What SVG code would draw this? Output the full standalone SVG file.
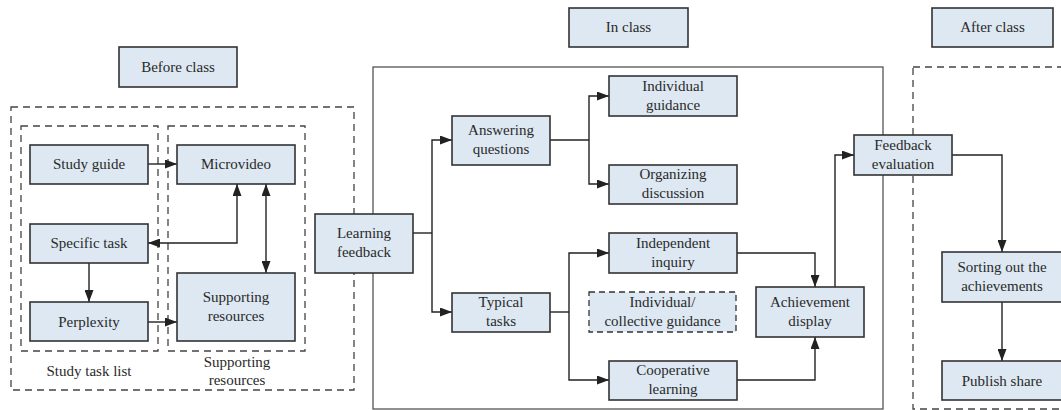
<svg xmlns="http://www.w3.org/2000/svg" width="1061" height="410" viewBox="0 0 1061 410">
<style>
.box{fill:#dde8f2;stroke:#333;stroke-width:1.6}
.dbox{fill:#dde8f2;stroke:#333;stroke-width:1.3;stroke-dasharray:6,4}
.frame{fill:none;stroke:#444;stroke-width:1.3;stroke-dasharray:7,5}
.sframe{fill:none;stroke:#555;stroke-width:1.3}
text{font-family:"Liberation Serif","Times New Roman",serif;font-size:15px;fill:#2a2a2a;text-anchor:middle}
.c{fill:none;stroke:#222;stroke-width:1.4}
</style>
<defs>
<marker id="a" viewBox="0 0 12 9" refX="12" refY="4.5" markerWidth="12" markerHeight="9" markerUnits="userSpaceOnUse" orient="auto-start-reverse">
<path d="M0,0 L12,4.5 L0,9 z" fill="#222"/>
</marker>
</defs>
<g id="frames">
<rect class="frame" x="11" y="107" width="343" height="283"/>
<rect class="frame" x="21" y="126" width="137" height="225"/>
<rect class="frame" x="168" y="126" width="137" height="225"/>
<rect class="sframe" x="373" y="67" width="510" height="342"/>
<rect class="frame" x="913" y="67" width="160" height="342"/>
<text x="89" y="376">Study task list</text>
<text x="237" y="367">Supporting</text>
<text x="237" y="385">resources</text>
</g>
<g id="connectors">
<line class="c" x1="148" y1="164" x2="177" y2="164" marker-end="url(#a)"/>
<line class="c" x1="148" y1="322" x2="177" y2="322" marker-end="url(#a)"/>
<polyline class="c" points="237,184 237,243 148,243" marker-start="url(#a)" marker-end="url(#a)"/>
<line class="c" x1="266" y1="184" x2="266" y2="273" marker-start="url(#a)" marker-end="url(#a)"/>
<line class="c" x1="89" y1="263" x2="89" y2="302" marker-end="url(#a)"/>
<line class="c" x1="413" y1="233" x2="432" y2="233"/>
<polyline class="c" points="452,140 432,140 432,312 452,312" marker-start="url(#a)" marker-end="url(#a)"/>
<line class="c" x1="550" y1="140" x2="589" y2="140"/>
<polyline class="c" points="609,96 589,96 589,184 609,184" marker-start="url(#a)" marker-end="url(#a)"/>
<line class="c" x1="550" y1="312" x2="569" y2="312"/>
<polyline class="c" points="609,253 569,253 569,380 609,380" marker-start="url(#a)" marker-end="url(#a)"/>
<polyline class="c" points="737,253 815,253 815,287" marker-end="url(#a)"/>
<polyline class="c" points="737,380 815,380 815,337" marker-end="url(#a)"/>
<polyline class="c" points="835,287 835,155 854,155" marker-end="url(#a)"/>
<polyline class="c" points="952,155 1002,155 1002,252" marker-end="url(#a)"/>
<line class="c" x1="1002" y1="302" x2="1002" y2="361" marker-end="url(#a)"/>
</g>
<g id="before-class"><rect class="box" x="119" y="47" width="118" height="40"/><text x="178" y="72">Before class</text></g>
<g id="in-class"><rect class="box" x="569" y="8" width="119" height="39"/><text x="628.5" y="32">In class</text></g>
<g id="after-class"><rect class="box" x="932" y="8" width="121" height="39"/><text x="992.5" y="32">After class</text></g>
<g id="study-guide"><rect class="box" x="30" y="145" width="118" height="39"/><text x="89" y="169">Study guide</text></g>
<g id="specific-task"><rect class="box" x="30" y="224" width="118" height="39"/><text x="89" y="248">Specific task</text></g>
<g id="perplexity"><rect class="box" x="30" y="302" width="118" height="39"/><text x="89" y="327">Perplexity</text></g>
<g id="microvideo"><rect class="box" x="177" y="145" width="118" height="39"/><text x="236" y="169">Microvideo</text></g>
<g id="supporting-resources"><rect class="box" x="177" y="273" width="118" height="68"/><text x="236" y="302">Supporting</text><text x="236" y="321">resources</text></g>
<g id="learning-feedback"><rect class="box" x="315" y="214" width="98" height="59"/><text x="364" y="238">Learning</text><text x="364" y="257">feedback</text></g>
<g id="answering-questions"><rect class="box" x="452" y="116" width="98" height="49"/><text x="501" y="135">Answering</text><text x="501" y="154">questions</text></g>
<g id="typical-tasks"><rect class="box" x="452" y="293" width="98" height="39"/><text x="501" y="307">Typical</text><text x="501" y="326">tasks</text></g>
<g id="individual-guidance"><rect class="box" x="609" y="76" width="128" height="40"/><text x="673" y="91">Individual</text><text x="673" y="110">guidance</text></g>
<g id="organizing-discussion"><rect class="box" x="609" y="165" width="128" height="39"/><text x="673" y="179">Organizing</text><text x="673" y="198">discussion</text></g>
<g id="independent-inquiry"><rect class="box" x="609" y="233" width="128" height="40"/><text x="673" y="248">Independent</text><text x="673" y="267">inquiry</text></g>
<g id="individual-collective-guidance"><rect class="dbox" x="589" y="292" width="147" height="40"/><text x="662.5" y="307">Individual/</text><text x="662.5" y="326">collective guidance</text></g>
<g id="cooperative-learning"><rect class="box" x="609" y="361" width="128" height="39"/><text x="673" y="375">Cooperative</text><text x="673" y="394">learning</text></g>
<g id="achievement-display"><rect class="box" x="756" y="287" width="108" height="50"/><text x="810" y="307">Achievement</text><text x="810" y="326">display</text></g>
<g id="feedback-evaluation"><rect class="box" x="854" y="135" width="98" height="40"/><text x="903" y="150">Feedback</text><text x="903" y="169">evaluation</text></g>
<g id="sorting-out"><rect class="box" x="942" y="252" width="121" height="50"/><text x="1002" y="272">Sorting out the</text><text x="1002" y="291">achievements</text></g>
<g id="publish-share"><rect class="box" x="942" y="361" width="121" height="39"/><text x="1002" y="386">Publish share</text></g>
</svg>
